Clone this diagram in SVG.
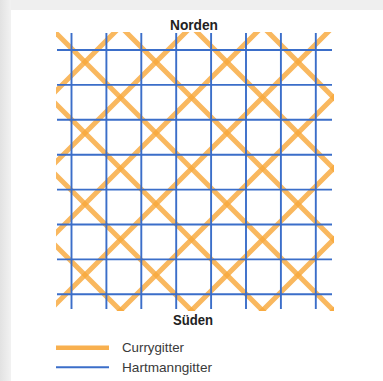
<svg xmlns="http://www.w3.org/2000/svg" width="383" height="381" viewBox="0 0 383 381">
  <defs>
    <linearGradient id="shade" x1="0" y1="0" x2="1" y2="0">
      <stop offset="0" stop-color="#e2e2e2"/>
      <stop offset="1" stop-color="#f2f2f2"/>
    </linearGradient>
    <clipPath id="gridClip">
      <rect x="56" y="32" width="278" height="279"/>
    </clipPath>
    <style>
      .curry { stroke: #f8a83c; stroke-width: 5; stroke-linecap: round; fill: none; opacity: 0.82; }
      .hart { stroke: #3b6ec9; stroke-width: 1.9; fill: none; }
      .title { font-family: "Liberation Sans", Arial, sans-serif; font-weight: bold; font-size: 15.5px; fill: #222; text-anchor: middle; }
      .legend { font-family: "Liberation Sans", Arial, sans-serif; font-size: 12.8px; fill: #3a3a3a; }
    </style>
  </defs>

  <rect x="0" y="0" width="383" height="381" fill="#efefef"/>
  <rect x="0" y="0" width="11" height="381" fill="url(#shade)"/>
  <rect x="11" y="10" width="372" height="371" fill="#ffffff"/>

  <g id="currygitter" clip-path="url(#gridClip)">
    <!-- lines x - y = 23 + 71m -->
    <path class="curry" d="M0,190 L383,573"/>
    <path class="curry" d="M0,119 L383,502"/>
    <path class="curry" d="M0,48 L383,431"/>
    <path class="curry" d="M0,-23 L383,360"/>
    <path class="curry" d="M0,-94 L383,289"/>
    <path class="curry" d="M0,-165 L383,218"/>
    <path class="curry" d="M0,-236 L383,147"/>
    <!-- lines x + y = 147 + 71m -->
    <path class="curry" d="M0,147 L383,-236"/>
    <path class="curry" d="M0,218 L383,-165"/>
    <path class="curry" d="M0,289 L383,-94"/>
    <path class="curry" d="M0,360 L383,-23"/>
    <path class="curry" d="M0,431 L383,48"/>
    <path class="curry" d="M0,502 L383,119"/>
    <path class="curry" d="M0,573 L383,190"/>
    <path class="curry" d="M0,644 L383,261"/>
  </g>

  <g id="hartmanngitter">
    <path class="hart" d="M71.5,33 V309 M106.4,33 V309 M141.3,33 V309 M176.2,33 V309 M211.1,33 V309 M246,33 V309 M280.9,33 V309 M315.8,33 V309"/>
    <path class="hart" d="M57,50 H332 M57,84.9 H332 M57,119.8 H332 M57,154.7 H332 M57,189.6 H332 M57,224.5 H332 M57,259.4 H332 M57,294.3 H332"/>
  </g>

  <g id="label-norden">
    <text class="title" x="194" y="29.5" textLength="48" lengthAdjust="spacingAndGlyphs">Norden</text>
  </g>
  <g id="label-sueden">
    <text class="title" x="193" y="325.3" textLength="40" lengthAdjust="spacingAndGlyphs">Süden</text>
  </g>

  <g id="legend">
    <line x1="56" y1="347.7" x2="109" y2="347.7" stroke="#f8a83c" stroke-width="4.5" opacity="0.9"/>
    <text class="legend" x="122" y="352" textLength="62" lengthAdjust="spacingAndGlyphs">Currygitter</text>
    <line x1="56" y1="367.3" x2="109" y2="367.3" stroke="#3b6ec9" stroke-width="1.9"/>
    <text class="legend" x="122" y="372" textLength="90" lengthAdjust="spacingAndGlyphs">Hartmanngitter</text>
  </g>
</svg>
